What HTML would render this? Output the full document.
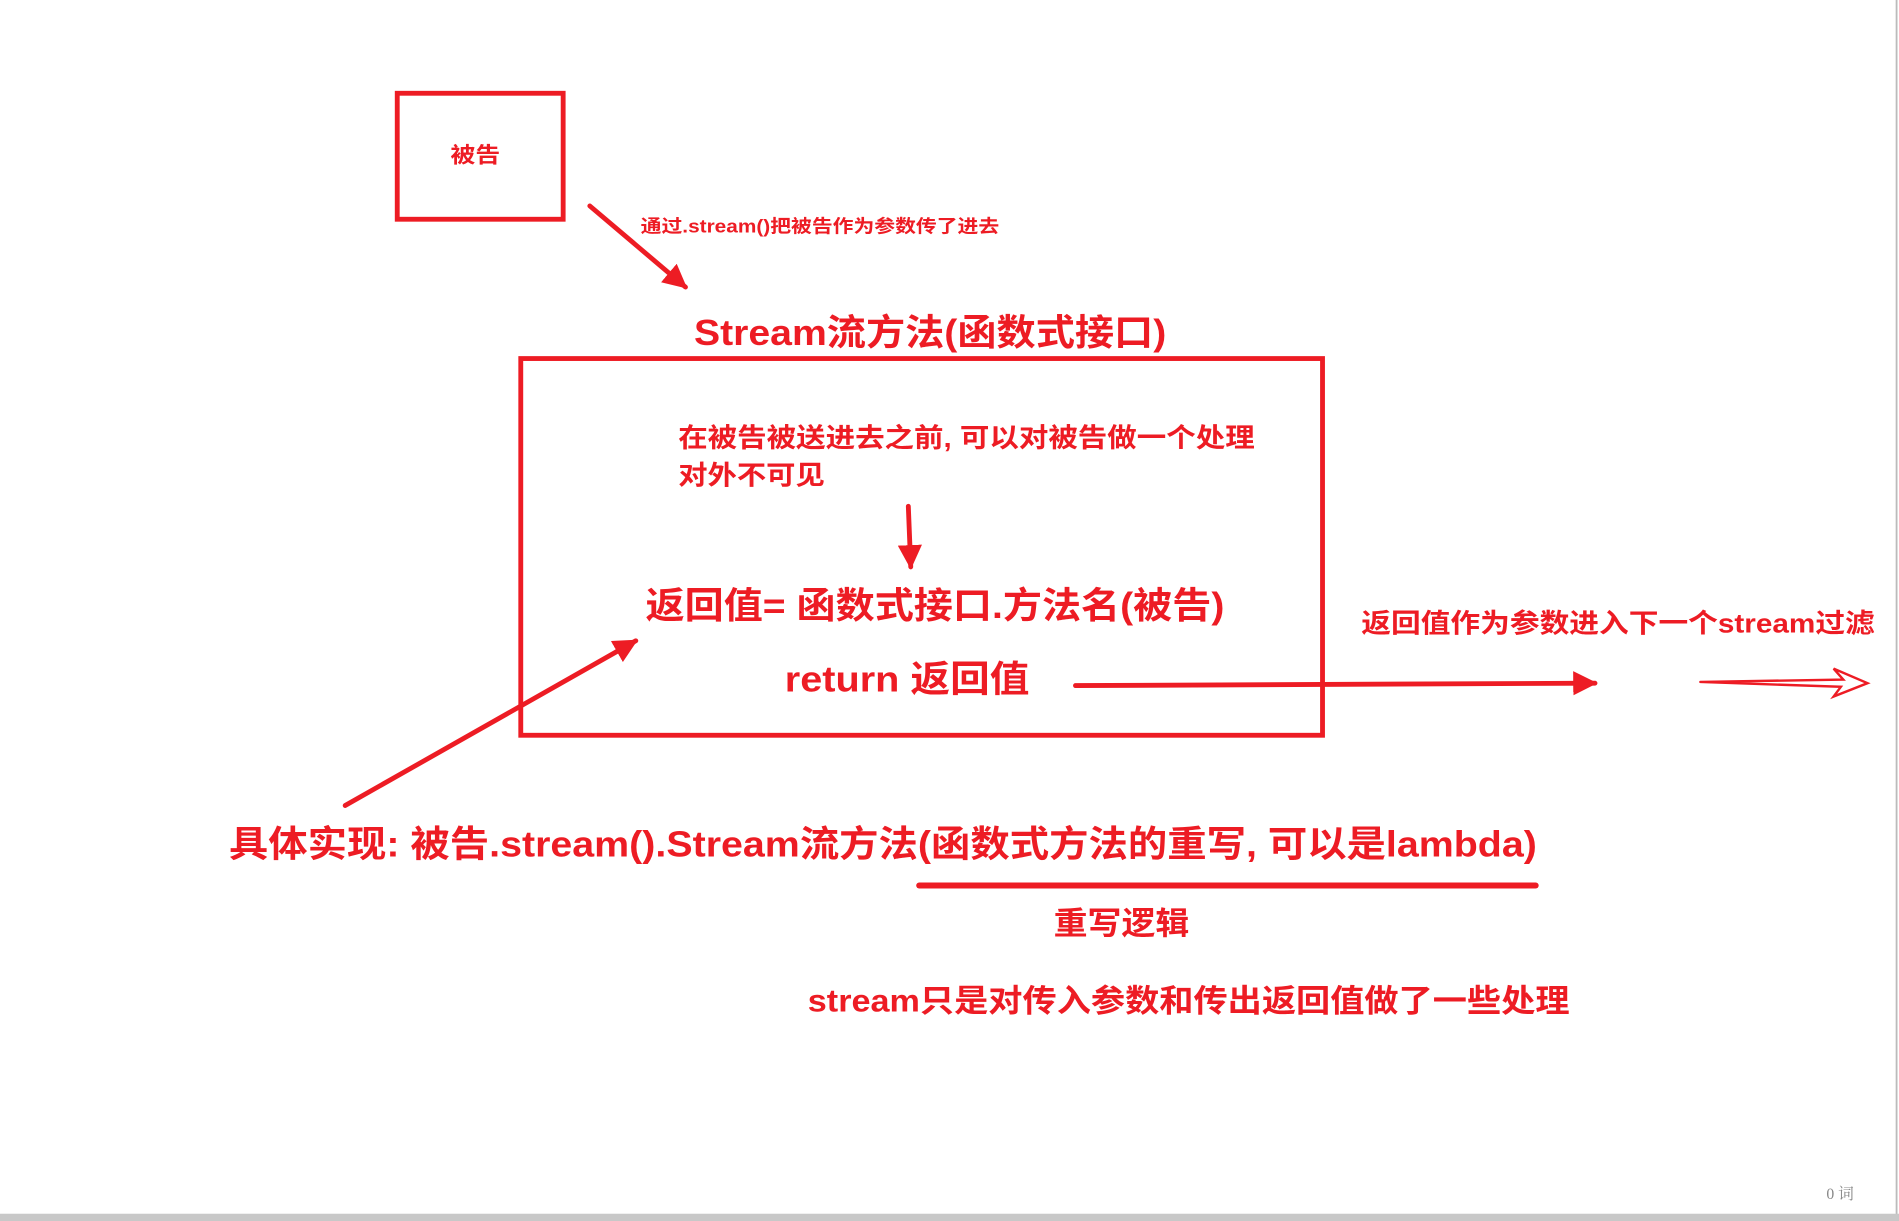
<!DOCTYPE html>
<html><head><meta charset="utf-8"><style>
html,body{margin:0;padding:0;background:#fff;overflow:hidden}
svg{display:block}
text{font-family:"Liberation Sans","Noto Sans CJK SC",sans-serif;font-weight:bold;fill:#ed1c24}
</style></head><body>
<svg width="1899" height="1221" viewBox="0 0 1568 1008" preserveAspectRatio="none" xmlns="http://www.w3.org/2000/svg">
<defs>
<marker id="ah" viewBox="0 0 10 10" refX="9" refY="5" markerWidth="5" markerHeight="5" orient="auto" markerUnits="strokeWidth"><path d="M0,0 L10,5 L0,10 z" fill="#ed1c24"/></marker>
</defs>
<rect x="0" y="0" width="1568" height="1008" fill="#fff"/>
<line x1="1566" y1="0" x2="1566" y2="1003" stroke="#bbb" stroke-width="1.5"/>
<rect x="0" y="1002" width="1568" height="6" fill="#c8c8c8"/>
<g stroke="#ed1c24" fill="none" stroke-width="4" stroke-linecap="round">
<rect x="328" y="77" width="137" height="104"/>
<rect x="430" y="296" width="662" height="311"/>
<line x1="487" y1="170" x2="566" y2="237" marker-end="url(#ah)"/>
<line x1="750" y1="418" x2="752" y2="468" marker-end="url(#ah)"/>
<line x1="888" y1="566" x2="1317" y2="564" marker-end="url(#ah)"/>
<line x1="285" y1="665" x2="525" y2="529" marker-end="url(#ah)"/>
<line x1="759" y1="731" x2="1268" y2="731" stroke-width="5"/>
<path d="M1404,563 L1522,561 L1514,552 L1542,564 L1514,575 L1520,567 L1404,563" stroke-width="2"/>
</g>
<text x="372" y="134" font-size="18" textLength="41" lengthAdjust="spacingAndGlyphs">被告</text>
<text x="529" y="192" font-size="15" textLength="296" lengthAdjust="spacingAndGlyphs">通过.stream()把被告作为参数传了进去</text>
<text x="573" y="285" font-size="30" textLength="390" lengthAdjust="spacingAndGlyphs">Stream流方法(函数式接口)</text>
<text x="560" y="369" font-size="22" textLength="476" lengthAdjust="spacingAndGlyphs">在被告被送进去之前, 可以对被告做一个处理</text>
<text x="560" y="400" font-size="22" textLength="121" lengthAdjust="spacingAndGlyphs">对外不可见</text>
<text x="533" y="510" font-size="30" textLength="478" lengthAdjust="spacingAndGlyphs">返回值= 函数式接口.方法名(被告)</text>
<text x="648" y="571" font-size="30" textLength="202" lengthAdjust="spacingAndGlyphs">return 返回值</text>
<text x="1124" y="522" font-size="22" textLength="424" lengthAdjust="spacingAndGlyphs">返回值作为参数进入下一个stream过滤</text>
<text x="189" y="707" font-size="30" textLength="1080" lengthAdjust="spacingAndGlyphs">具体实现: 被告.stream().Stream流方法(函数式方法的重写, 可以是lambda)</text>
<text x="870" y="771" font-size="26" textLength="112" lengthAdjust="spacingAndGlyphs">重写逻辑</text>
<text x="667" y="835" font-size="26" textLength="629" lengthAdjust="spacingAndGlyphs">stream只是对传入参数和传出返回值做了一些处理</text>
<text x="1508" y="990" font-size="13" style="fill:#888;font-weight:normal;font-family:'Liberation Serif','Noto Serif CJK SC',serif">0 词</text>
</svg>
</body></html>
